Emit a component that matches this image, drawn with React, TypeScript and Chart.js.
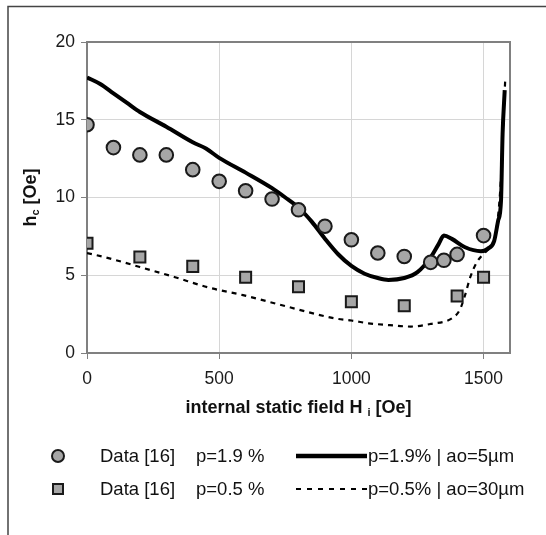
import React, { useEffect, useRef } from 'react';
import { Chart, registerables } from 'chart.js';

Chart.register(...registerables);

const FONT = '"Liberation Sans", Arial, Helvetica, sans-serif';

// Measured data, p = 1.9 %
const dataX19 = [0, 100, 200, 300, 400, 500, 600, 700, 800, 900, 1000, 1100, 1200, 1300, 1350, 1400, 1500];
const dataY19 = [14.68, 13.21, 12.74, 12.74, 11.79, 11.04, 10.43, 9.9, 9.21, 8.15, 7.28, 6.43, 6.21, 5.83, 5.96, 6.34, 7.55];

// Measured data, p = 0.5 %
const dataX05 = [0, 200, 400, 600, 800, 1000, 1200, 1400, 1500];
const dataY05 = [7.06, 6.17, 5.57, 4.87, 4.26, 3.3, 3.04, 3.66, 4.87];

// Model, p = 1.9 % | ao = 5 µm
const modelX19 = [0, 50, 100, 150, 200, 300, 400, 450, 500, 600, 700, 750, 800, 850, 900, 950, 1000, 1050, 1100, 1140, 1200, 1250, 1300, 1330, 1350, 1380, 1430, 1490, 1515, 1540, 1555, 1566, 1572, 1580];
const modelY19 = [17.72, 17.3, 16.7, 16.1, 15.5, 14.55, 13.55, 13.15, 12.55, 11.6, 10.6, 10.0, 9.35, 8.45, 7.35, 6.35, 5.6, 5.1, 4.82, 4.7, 4.82, 5.2, 6.15, 7.0, 7.55, 7.34, 6.8, 6.55, 6.7, 7.2, 8.5, 9.8, 14.1, 16.9];

// Model, p = 0.5 % | ao = 30 µm
const modelX05 = [0, 66, 200, 330, 460, 590, 720, 855, 935, 1000, 1065, 1145, 1225, 1300, 1380, 1410, 1430, 1450, 1475, 1500, 1525, 1546, 1565, 1575, 1582];
const modelY05 = [6.43, 6.17, 5.53, 4.89, 4.21, 3.72, 3.15, 2.55, 2.23, 2.09, 1.91, 1.79, 1.7, 1.87, 2.23, 2.77, 3.72, 4.89, 5.85, 6.38, 6.81, 7.66, 11, 15, 17.6];

const xTicks = [0, 500, 1000, 1500];
const yTicks = [0, 5, 10, 15, 20];

const legendRows = [
  { data: 'Data [16]', p: 'p=1.9 %', model: 'p=1.9% | ao=5µm' },
  { data: 'Data [16]', p: 'p=0.5 %', model: 'p=0.5% | ao=30µm' },
];

const toPts = (xs: number[], ys: number[]) => xs.map((x, i) => ({ x, y: ys[i] }));

type Part = { t: string; sub?: boolean };

function drawRich(ctx: CanvasRenderingContext2D, parts: Part[], cx: number, cy: number, size: number, subSize: number) {
  const mainFont = `bold ${size}px ${FONT}`;
  const subFont = `bold ${subSize}px ${FONT}`;
  let total = 0;
  for (const p of parts) {
    ctx.font = p.sub ? subFont : mainFont;
    total += ctx.measureText(p.t).width;
  }
  let x = cx - total / 2;
  ctx.textAlign = 'left';
  ctx.textBaseline = 'middle';
  for (const p of parts) {
    ctx.font = p.sub ? subFont : mainFont;
    ctx.fillText(p.t, x, p.sub ? cy + size * 0.3 : cy);
    x += ctx.measureText(p.t).width;
  }
}

const decor = {
  id: 'decor',
  beforeDatasetsDraw(chart: any) {
    const { ctx, chartArea: a } = chart;
    ctx.save();
    ctx.strokeStyle = '#808080';
    ctx.lineWidth = 2;
    ctx.strokeRect(a.left, a.top, a.right - a.left, a.bottom - a.top);
    ctx.restore();
  },
  afterDraw(chart: any) {
    const { ctx, chartArea: a } = chart;
    ctx.save();
    // outer frame (left and top edges)
    ctx.strokeStyle = '#444';
    ctx.lineWidth = 1.5;
    ctx.beginPath();
    ctx.moveTo(8, 535);
    ctx.lineTo(8, 6.5);
    ctx.lineTo(546, 6.5);
    ctx.stroke();

    ctx.fillStyle = '#111';
    // x axis title
    drawRich(ctx, [{ t: 'internal static field H ' }, { t: 'i', sub: true }, { t: ' [Oe]' }], (a.left + a.right) / 2, 408, 18, 11);
    // y axis title
    ctx.save();
    ctx.translate(31, (a.top + a.bottom) / 2);
    ctx.rotate(-Math.PI / 2);
    drawRich(ctx, [{ t: 'h' }, { t: 'c', sub: true }, { t: ' [Oe]' }], 0, 0, 18, 11);
    ctx.restore();

    // legend
    const rowY = [456, 489];
    ctx.font = `18.5px ${FONT}`;
    ctx.textAlign = 'left';
    ctx.textBaseline = 'middle';
    legendRows.forEach((r, i) => {
      const y = rowY[i];
      ctx.fillStyle = '#a6a6a6';
      ctx.strokeStyle = '#1a1a1a';
      ctx.lineWidth = 2;
      ctx.beginPath();
      if (i === 0) {
        ctx.arc(58, y, 6, 0, Math.PI * 2);
      } else {
        ctx.rect(53, y - 5, 10, 10);
      }
      ctx.fill();
      ctx.stroke();
      ctx.fillStyle = '#111';
      ctx.fillText(r.data, 100, y + 1);
      ctx.fillText(r.p, 196, y + 1);
      ctx.strokeStyle = '#000';
      ctx.beginPath();
      if (i === 0) {
        ctx.lineWidth = 4.5;
        ctx.setLineDash([]);
      } else {
        ctx.lineWidth = 2;
        ctx.setLineDash([5, 6]);
      }
      ctx.moveTo(296, y);
      ctx.lineTo(367, y);
      ctx.stroke();
      ctx.setLineDash([]);
      ctx.fillText(r.model, 368, y + 1);
    });
    ctx.restore();
  },
};

export default function App() {
  const ref = useRef<HTMLCanvasElement | null>(null);

  useEffect(() => {
    if (!ref.current) return;
    const chart = new Chart(ref.current, {
      type: 'scatter',
      data: {
        datasets: [
          {
            label: 'Data [16] p=1.9 %',
            data: toPts(dataX19, dataY19),
            pointStyle: 'circle',
            pointRadius: 6.8,
            backgroundColor: '#a6a6a6',
            borderColor: '#1a1a1a',
            borderWidth: 2,
            showLine: false,
          },
          {
            label: 'Data [16] p=0.5 %',
            data: toPts(dataX05, dataY05),
            pointStyle: 'rect',
            pointRadius: 7.8,
            backgroundColor: '#a6a6a6',
            borderColor: '#1a1a1a',
            borderWidth: 2,
            showLine: false,
          },
          {
            type: 'line',
            label: 'p=1.9% | ao=5µm',
            data: toPts(modelX19, modelY19),
            borderColor: '#000',
            borderWidth: 4,
            pointRadius: 0,
            cubicInterpolationMode: 'monotone',
            fill: false,
          } as any,
          {
            type: 'line',
            label: 'p=0.5% | ao=30µm',
            data: toPts(modelX05, modelY05),
            borderColor: '#000',
            borderWidth: 2.2,
            borderDash: [5, 5],
            pointRadius: 0,
            cubicInterpolationMode: 'monotone',
            fill: false,
          } as any,
        ],
      },
      options: {
        animation: false,
        responsive: false,
        devicePixelRatio: 1,
        layout: { padding: { left: 0, top: 42, right: 36, bottom: 0 } },
        plugins: {
          legend: { display: false },
          tooltip: { enabled: false },
          title: { display: false },
        },
        scales: {
          x: {
            type: 'linear',
            min: 0,
            max: 1600,
            afterBuildTicks: (s: any) => {
              s.ticks = xTicks.map((v) => ({ value: v }));
            },
            afterFit: (s: any) => {
              s.height = 182;
            },
            border: { display: false },
            grid: { color: '#d6d6d6', lineWidth: 1, tickColor: '#808080', tickLength: 6 },
            ticks: {
              color: '#1a1a1a',
              font: { family: FONT, size: 17.5 },
              padding: 10,
              maxRotation: 0,
              callback: (v: any) => String(v),
            },
          },
          y: {
            type: 'linear',
            min: 0,
            max: 20,
            afterBuildTicks: (s: any) => {
              s.ticks = yTicks.map((v) => ({ value: v }));
            },
            afterFit: (s: any) => {
              s.width = 87;
            },
            border: { display: false },
            grid: { color: '#d6d6d6', lineWidth: 1, tickColor: '#808080', tickLength: 6 },
            ticks: {
              color: '#1a1a1a',
              font: { family: FONT, size: 17.5 },
              padding: 6,
              callback: (v: any) => String(v),
            },
          },
        },
      },
      plugins: [decor],
    } as any);
    return () => chart.destroy();
  }, []);

  return (
    <div style={{ position: 'absolute', left: 0, top: 0, width: 546, height: 535, background: '#fff' }}>
      <canvas ref={ref} width={546} height={535} style={{ display: 'block', width: 546, height: 535 }} />
    </div>
  );
}
